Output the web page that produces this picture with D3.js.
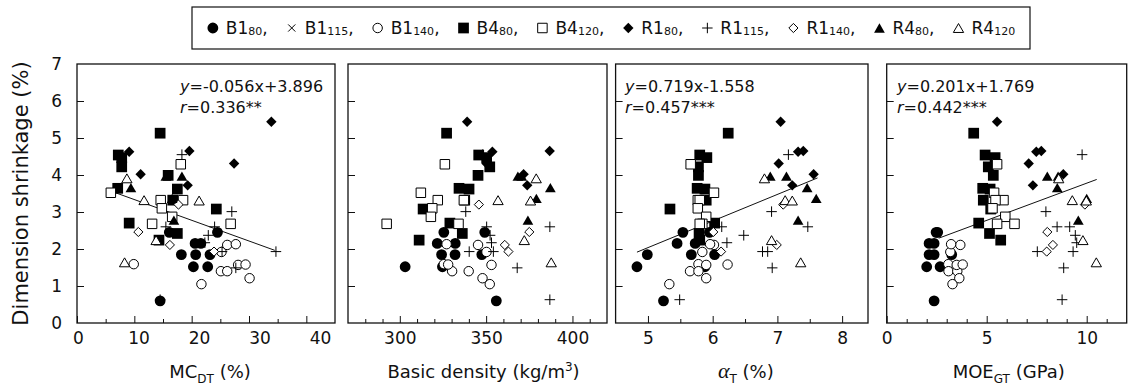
<!DOCTYPE html>
<html>
<head>
<meta charset="utf-8">
<script src="https://cdnjs.cloudflare.com/ajax/libs/d3/7.8.5/d3.min.js"></script>
<style>
  body { margin: 0; background: #fff; }
  svg text { font-family: "DejaVu Sans", sans-serif; fill: #111; }
</style>
</head>
<body>
<div id="chart"></div>
<script>
// groups: clone + spacing (legend order)
const groupIds = ["B1_80", "B1_115", "B1_140", "B4_80", "B4_120", "R1_80", "R1_115", "R1_140", "R4_80", "R4_120"];

// dimension shrinkage (%) of each specimen, shared by all four panels
const shrinkage = {
  B1_80:  [0.60, 2.45, 2.45, 2.15, 2.15, 1.85, 1.85, 1.85, 1.52, 1.52],
  B1_115: [],
  B1_140: [1.59, 1.05, 1.92, 2.11, 2.13, 1.40, 1.40, 1.57, 1.58, 1.21],
  B4_80:  [5.13, 4.54, 4.47, 4.22, 3.99, 3.64, 3.62, 3.32, 3.08, 2.70, 2.42, 2.24],
  B4_120: [4.29, 3.52, 3.32, 3.32, 3.10, 2.87, 2.68, 2.68],
  R1_80:  [5.44, 4.63, 4.65, 4.31, 4.02, 3.72],
  R1_115: [4.55, 3.01, 2.60, 2.60, 2.37, 2.17, 1.93, 1.93, 1.49, 0.63],
  R1_140: [3.20, 2.46, 2.11, 1.93],
  R4_80:  [3.97, 3.97, 3.66, 3.37, 2.78],
  R4_120: [3.91, 3.32, 3.31, 2.24, 1.64]
};

// MC_DT (%)
const mcDT = {
  B1_80:  [14.5, 16.1, 24.5, 20.6, 21.6, 18.2, 20.7, 23.2, 20.3, 22.8],
  B1_115: [],
  B1_140: [9.9, 21.7, 25.2, 26.2, 27.7, 25.1, 26.2, 28.1, 29.4, 30.1],
  B4_80:  [14.5, 7.2, 7.8, 7.8, 15.9, 7.1, 17.5, 16.7, 24.3, 9.1, 17.5, 14.3],
  B4_120: [18.1, 5.9, 14.6, 18.5, 14.8, 16.6, 13.1, 26.8],
  R1_80:  [33.9, 9.1, 19.6, 27.4, 11.1, 19.3],
  R1_115: [18.3, 27.0, 15.5, 24.0, 22.9, 22.3, 34.7, 25.3, 27.7, 14.5],
  R1_140: [17.7, 10.7, 16.2, 23.9],
  R4_80:  [18.3, 15.5, 9.4, 16.6, 16.9],
  R4_120: [8.7, 11.7, 21.3, 13.8, 8.3]
};

// basic density (kg/m3)
const basicDensity = {
  B1_80:  [355.9, 325.5, 349.2, 321.7, 332.1, 324.2, 332.0, 347.5, 303.1, 324.7],
  B1_115: [],
  B1_140: [325.5, 352.1, 350.2, 345.3, 327.1, 330.3, 339.9, 353.1, 328.0, 347.9],
  B4_80:  [327.1, 345.7, 350.3, 352.1, 345.3, 334.3, 340.1, 337.6, 313.5, 329.0, 336.2, 311.2],
  B4_120: [326.1, 312.2, 322.0, 337.1, 318.8, 318.0, 292.4, 334.0],
  R1_80:  [339.0, 353.6, 386.8, 350.2, 371.7, 373.8],
  R1_115: [348.0, 338.2, 386.9, 350.3, 352.3, 353.1, 340.2, 354.2, 368.0, 386.9],
  R1_140: [345.8, 375.0, 360.8, 362.9],
  R4_80:  [368.4, 370.6, 387.2, 379.1, 374.2],
  R4_120: [379.0, 356.9, 375.7, 372.1, 387.7]
};

// alpha_T (%)
const alphaT = {
  B1_80:  [5.24, 5.54, 5.95, 5.45, 5.73, 4.99, 5.67, 6.03, 4.83, 5.88],
  B1_115: [],
  B1_140: [5.78, 5.33, 5.84, 6.02, 5.96, 5.65, 5.78, 5.90, 6.23, 5.90],
  B4_80:  [6.24, 5.80, 5.91, 5.78, 5.78, 5.76, 5.88, 5.90, 5.34, 6.03, 5.79, 5.80],
  B4_120: [5.66, 6.02, 5.77, 5.80, 5.77, 5.90, 5.84, 5.80],
  R1_80:  [7.05, 7.32, 7.40, 7.02, 7.56, 7.23],
  R1_115: [7.17, 6.91, 7.47, 6.14, 6.48, 6.22, 6.77, 6.85, 6.92, 5.49],
  R1_140: [7.09, 6.01, 6.99, 6.13],
  R4_80:  [6.89, 7.14, 7.46, 7.60, 7.32],
  R4_120: [6.80, 7.12, 7.23, 6.91, 7.36]
};

// MOE_GT (GPa)
const moeGT = {
  B1_80:  [2.37, 2.47, 2.55, 2.12, 2.37, 2.12, 2.37, 3.25, 2.00, 2.67],
  B1_115: [],
  B1_140: [3.08, 3.29, 3.18, 3.68, 3.22, 3.09, 3.53, 3.50, 3.80, 3.63],
  B4_80:  [4.35, 4.92, 5.42, 5.08, 5.33, 4.80, 5.17, 4.83, 5.20, 4.60, 5.14, 5.70],
  B4_120: [5.52, 5.37, 5.84, 5.44, 5.29, 5.93, 5.52, 6.39],
  R1_80:  [5.52, 7.48, 7.73, 7.10, 8.83, 7.31],
  R1_115: [9.77, 7.96, 8.52, 9.15, 9.43, 9.50, 7.53, 9.32, 8.85, 8.77],
  R1_140: [9.91, 8.03, 8.31, 8.00],
  R4_80:  [8.03, 8.57, 8.53, 10.0, 9.58],
  R4_120: [8.60, 9.28, 9.98, 9.81, 10.48]
};

const yTicks = [0, 1, 2, 3, 4, 5, 6, 7];
const mcTicks = [0, 10, 20, 30, 40];
const densityTicks = [300, 350, 400];
const alphaTicks = [5, 6, 7, 8];
const moeTicks = [0, 5, 10];

// regression lines: [slope, intercept], x range of the drawn line, labels
const fits = {
  mc:    { coef: [-0.056, 3.896], span: [6.7, 34.5], eq: "=-0.056x+3.896", r: "=0.336**" },
  alpha: { coef: [0.719, -1.558], span: [4.83, 7.62], eq: "=0.719x-1.558", r: "=0.457***" },
  moe:   { coef: [0.201, 1.769],  span: [2.6, 10.5],  eq: "=0.201x+1.769", r: "=0.442***" }
};

const width = 1140, height = 391;
const svg = d3.select("#chart").append("svg")
  .attr("width", width)
  .attr("height", height);

const plotTop = 64, plotBottom = 323;
const y = d3.scaleLinear().domain([0, 7]).range([plotBottom, plotTop]);
const fmt = d3.format("~g");

// in the source figure the MC tick labels sit a bit right of their tick marks,
// so panel 1 places its labels with their own range
const panels = [
  { key: "mc", values: mcDT, left: 77, right: 335, domain: [0, 45], ticks: mcTicks, minorStep: 5, labelX: 180, labelRange: [78, 320] },
  { key: "density", values: basicDensity, left: 348, right: 607, domain: [270, 420], ticks: densityTicks, minorStep: 10 },
  { key: "alpha", values: alphaT, left: 615.6, right: 868, domain: [4.5, 8.4], ticks: alphaTicks, minorStep: 0.5, labelX: 625 },
  { key: "moe", values: moeGT, left: 886.7, right: 1126.7, domain: [0, 12], ticks: moeTicks, minorStep: 1, labelX: 897 }
];

// marker shapes
const diamond = { draw(ctx, size) { const r = Math.sqrt(size / 2); ctx.moveTo(0, -r); ctx.lineTo(r, 0); ctx.lineTo(0, r); ctx.lineTo(-r, 0); ctx.closePath(); } };
const triangle = { draw(ctx, size) { const s = Math.sqrt(size * 4 / Math.sqrt(3)), h = s * Math.sqrt(3) / 2; ctx.moveTo(0, -h / 2); ctx.lineTo(s / 2, h / 2); ctx.lineTo(-s / 2, h / 2); ctx.closePath(); } };
const plus = { draw(ctx, size) { const r = Math.sqrt(size) / 2; ctx.moveTo(-r, 0); ctx.lineTo(r, 0); ctx.moveTo(0, -r); ctx.lineTo(0, r); } };
const times = { draw(ctx, size) { const r = Math.sqrt(size) / 2.8; ctx.moveTo(-r, -r); ctx.lineTo(r, r); ctx.moveTo(r, -r); ctx.lineTo(-r, r); } };

const markerStyle = {
  B1_80:  { type: d3.symbolCircle, size: 92, fill: "#000" },
  B1_115: { type: times, size: 100, fill: "none" },
  B1_140: { type: d3.symbolCircle, size: 70, fill: "#fff" },
  B4_80:  { type: d3.symbolSquare, size: 115, fill: "#000" },
  B4_120: { type: d3.symbolSquare, size: 90, fill: "#fff" },
  R1_80:  { type: diamond, size: 54, fill: "#000" },
  R1_115: { type: plus, size: 110, fill: "none" },
  R1_140: { type: diamond, size: 42, fill: "#fff" },
  R4_80:  { type: triangle, size: 50, fill: "#000" },
  R4_120: { type: triangle, size: 46, fill: "#fff" }
};
const symbolPath = id => d3.symbol().type(markerStyle[id].type).size(markerStyle[id].size)();

panels.forEach((p, pi) => {
  const x = d3.scaleLinear().domain(p.domain).range([p.left, p.right]);
  const labelScale = p.labelRange
    ? d3.scaleLinear().domain([p.ticks[0], p.ticks[p.ticks.length - 1]]).range(p.labelRange)
    : x;
  const g = svg.append("g");

  // minor x ticks
  const minor = d3.range(p.domain[0] + p.minorStep, p.domain[1], p.minorStep)
    .filter(v => !p.ticks.some(t => Math.abs(t - v) < 1e-6));
  g.append("g")
    .attr("transform", `translate(0,${plotBottom})`)
    .call(d3.axisBottom(x).tickValues(minor).tickSizeInner(-4).tickSizeOuter(0).tickFormat(""))
    .call(a => a.select(".domain").remove());

  // major x ticks
  g.append("g")
    .attr("transform", `translate(0,${plotBottom})`)
    .call(d3.axisBottom(x).tickValues(p.ticks).tickSizeInner(-7).tickSizeOuter(0).tickFormat(""))
    .call(a => a.select(".domain").remove());

  // x tick labels
  g.append("g")
    .attr("transform", `translate(0,${plotBottom})`)
    .call(d3.axisBottom(labelScale).tickValues(p.ticks).tickSize(0).tickPadding(9).tickFormat(fmt))
    .call(a => a.select(".domain").remove())
    .call(a => a.selectAll("line").remove())
    .call(a => a.selectAll("text").style("font-size", "17px").style("font-family", "DejaVu Sans"));

  // y ticks, labels only on the first panel
  const ya = d3.axisLeft(y).tickValues(yTicks).tickSizeInner(-7).tickSizeOuter(0).tickPadding(15)
    .tickFormat(pi === 0 ? fmt : "");
  g.append("g")
    .attr("transform", `translate(${p.left},0)`)
    .call(ya)
    .call(a => a.select(".domain").remove())
    .call(a => a.selectAll("line").filter(d => d === 0 || d === 7).remove())
    .call(a => a.selectAll("text").style("font-size", "17px").style("font-family", "DejaVu Sans"));

  g.selectAll(".tick line").attr("stroke", "#111");

  // frame
  g.append("rect")
    .attr("x", p.left).attr("y", plotTop)
    .attr("width", p.right - p.left).attr("height", plotBottom - plotTop)
    .attr("fill", "none").attr("stroke", "#111").attr("stroke-width", 1.3);

  // regression line
  const fit = fits[p.key];
  if (fit) {
    const f = v => fit.coef[0] * v + fit.coef[1];
    g.append("line")
      .attr("x1", x(fit.span[0])).attr("y1", y(f(fit.span[0])))
      .attr("x2", x(fit.span[1])).attr("y2", y(f(fit.span[1])))
      .attr("stroke", "#111").attr("stroke-width", 1);

    const t1 = g.append("text").attr("x", p.labelX).attr("y", 92).style("font-size", "16px");
    t1.append("tspan").style("font-style", "italic").text("y");
    t1.append("tspan").text(fit.eq);
    const t2 = g.append("text").attr("x", p.labelX).attr("y", 113).style("font-size", "16px");
    t2.append("tspan").style("font-style", "italic").text("r");
    t2.append("tspan").text(fit.r);
  }

  // points
  groupIds.forEach(id => {
    const st = markerStyle[id];
    const pts = shrinkage[id].map((s, i) => ({ x: p.values[id][i], y: s }));
    g.append("g").selectAll("path")
      .data(pts)
      .enter()
      .append("path")
      .attr("d", symbolPath(id))
      .attr("transform", d => `translate(${x(d.x)},${y(d.y)})`)
      .attr("fill", st.fill)
      .attr("stroke", "#000")
      .attr("stroke-width", st.fill === "#000" ? 0 : 1);
  });
});

// axis titles
const titleY = 378;
const xTitle = (cx) => svg.append("text").attr("x", cx).attr("y", titleY)
  .attr("text-anchor", "middle").style("font-size", "18px");

let t = xTitle((77 + 335) / 2 + 4);
t.append("tspan").text("MC");
t.append("tspan").attr("dy", 5).style("font-size", "12px").text("DT");
t.append("tspan").attr("dy", -5).text(" (%)");

t = xTitle((348 + 607) / 2 + 6);
t.append("tspan").text("Basic density (kg/m");
t.append("tspan").attr("dy", -7).style("font-size", "12px").text("3");
t.append("tspan").attr("dy", 7).text(")");

t = xTitle((615.6 + 868) / 2 + 4);
t.append("tspan").style("font-family", "Liberation Serif").style("font-style", "italic").style("font-size", "22px").text("α");
t.append("tspan").attr("dy", 5).style("font-size", "12px").text("T");
t.append("tspan").attr("dy", -5).text(" (%)");

t = xTitle((886.7 + 1126.7) / 2 + 2);
t.append("tspan").text("MOE");
t.append("tspan").attr("dy", 5).style("font-size", "12px").text("GT");
t.append("tspan").attr("dy", -5).text(" (GPa)");

svg.append("text")
  .attr("transform", `translate(28,${(plotTop + plotBottom) / 2}) rotate(-90)`)
  .attr("text-anchor", "middle")
  .style("font-size", "21px")
  .text("Dimension shrinkage (%)");

// legend
const boxL = 192, boxR = 1030, boxT = 7, boxB = 49;
svg.append("rect")
  .attr("x", boxL).attr("y", boxT)
  .attr("width", boxR - boxL).attr("height", boxB - boxT)
  .attr("fill", "none").attr("stroke", "#111").attr("stroke-width", 1.2);

const legendGap = 18;
const legend = svg.append("g");
let cursor = 0;
groupIds.forEach((id, i) => {
  const [base, sub] = id.split("_");
  const st = markerStyle[id];
  const item = legend.append("g").attr("transform", `translate(${cursor},0)`);
  item.append("path")
    .attr("d", symbolPath(id))
    .attr("transform", "translate(6,0)")
    .attr("fill", st.fill)
    .attr("stroke", "#000")
    .attr("stroke-width", st.fill === "#000" ? 0 : 1);
  const txt = item.append("text").attr("x", 19).attr("y", 6).style("font-size", "17px");
  txt.append("tspan").text(base);
  txt.append("tspan").attr("dy", 1).style("font-size", "11px").text(sub);
  if (i < groupIds.length - 1) txt.append("tspan").attr("dy", -1).text(",");
  cursor += 19 + txt.node().getComputedTextLength() + legendGap;
});
legend.attr("transform", `translate(${(boxL + boxR) / 2 - (cursor - legendGap) / 2},${(boxT + boxB) / 2})`);
</script>
</body>
</html>
